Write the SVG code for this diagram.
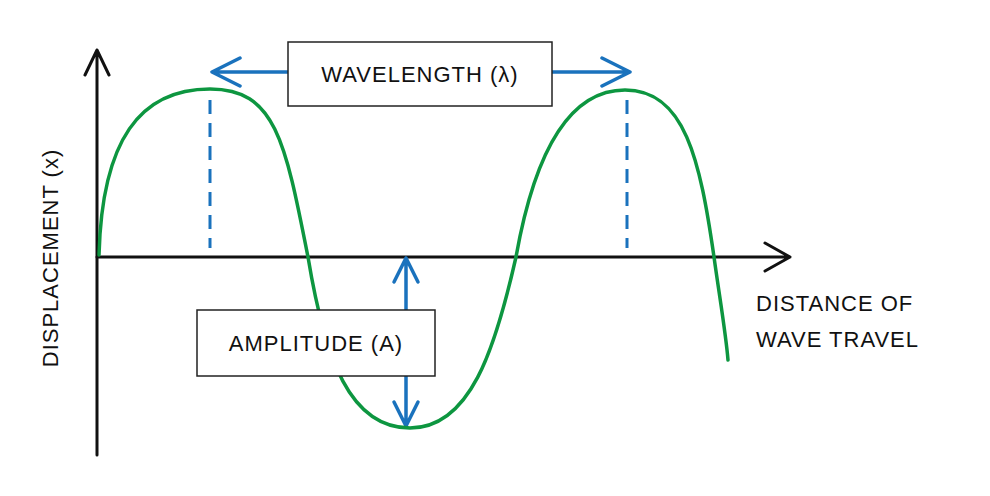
<svg xmlns="http://www.w3.org/2000/svg" width="990" height="496" viewBox="0 0 990 496">
<style>
.ax{stroke:#111;stroke-width:3;fill:none;stroke-linecap:round;stroke-linejoin:round}
.bl{stroke:#1a72bd;stroke-width:3.5;fill:none;stroke-linecap:round;stroke-linejoin:round}
.dash{stroke:#1a72bd;stroke-width:3;fill:none;stroke-dasharray:14 9}
.box{fill:#fff;stroke:#222;stroke-width:1.5}
text{font-family:"Liberation Sans",Arial,sans-serif;font-size:22px;fill:#111;letter-spacing:1px}
</style>
<rect width="990" height="496" fill="#fff"/>
<g id="connectors">
<path class="ax" d="M97 455 V50 M85 75 L97 50 L109 75"/>
<path class="ax" d="M97 257 H790 M765 243 L790 257 L765 271"/>
<path class="dash" d="M210 100 V248 M627 100 V248"/>
<path class="bl" d="M212 72 H290 M550 72 H630 M240 58 L212 72 L240 86 M602 58 L630 72 L602 86"/>
<path class="bl" d="M406 258 V426 M394 282 L406 258 L418 282 M394 402 L406 426 L418 402"/>
</g>
<g id="wave">
<path d="M99 255 C102 140 140 89 210 89 C275 89 285 140 308 257 C325 360 350 428 410 428 C470 428 495 350 516 257 C535 150 570 90 625 90 C685 90 700 160 714 257 C720 300 726 335 728 360" fill="none" stroke="#0d9640" stroke-width="3.5" stroke-linecap="round"/>
</g>
<g id="wavelength">
<rect class="box" x="288" y="42" width="264" height="64"/>
<text x="420" y="82" text-anchor="middle">WAVELENGTH (λ)</text>
</g>
<g id="amplitude">
<rect class="box" x="197" y="310" width="238" height="66"/>
<text x="316" y="351" text-anchor="middle">AMPLITUDE (A)</text>
</g>
<g id="ylabel"><text transform="translate(58 258) rotate(-90)" text-anchor="middle">DISPLACEMENT (x)</text></g>
<g id="xlabel">
<text x="756" y="311">DISTANCE OF</text>
<text x="756" y="347">WAVE TRAVEL</text>
</g>
</svg>
